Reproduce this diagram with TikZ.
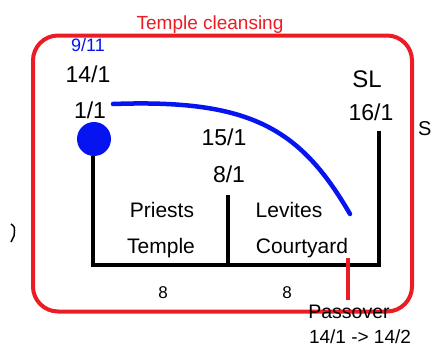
\documentclass[tikz,border=0pt]{standalone}
\usepackage{fontspec}
\setmainfont{Liberation Sans}
\definecolor{tred}{RGB}{236,28,36}
\definecolor{tblue}{RGB}{5,20,240}
\begin{document}
\begin{tikzpicture}[x=1pt,y=-1pt,
  lbl/.style={anchor=base,inner sep=0pt,font=\fontsize{21}{21}\selectfont},
  small/.style={anchor=base,inner sep=0pt,font=\fontsize{17}{17}\selectfont},
  wall/.style={line width=4pt,black},
  redline/.style={line width=4pt,tred},
  blueline/.style={line width=4.5pt,tblue,line cap=round}]
\useasboundingbox (0,0) rectangle (432,348);
% red frame
\node[draw=tred,line width=4pt,rounded corners=25pt,minimum width=379pt,minimum height=276pt,inner sep=0pt] (frame) at (222.5,173.5) {};
\node[anchor=base,inner sep=0pt,text=tred,font=\fontsize{19}{19}\selectfont] (title) at (210,29) {Temple cleansing};
% walls
\node[circle,fill=tblue,minimum size=34pt,inner sep=0pt] (dot) at (94,139) {};
\coordinate (bl) at (93,265);
\coordinate (br) at (379,265);
\coordinate (mb) at (228,265);
\coordinate (mt) at (228,195);
\coordinate (rt) at (379,131);
\draw[wall] (dot.south -| bl) -- (bl) -- (br) -- (rt);
\draw[wall] (mt) -- (mb);
% passover marker
\coordinate (pt) at (348,258);
\coordinate (pb) at (348,300);
\draw[redline] (pt) -- (pb);
% blue curve
\coordinate (cs) at (113,104);
\coordinate (ce) at (350,214);
\draw[blueline] (cs) .. controls (250,99) and (300,128) .. (ce);
% labels
\node[small,text=tblue,font=\fontsize{18}{18}\selectfont] (nine) at (88,52) {9/11};
\node[lbl,font=\fontsize{23}{23}\selectfont] (d141) at (88,82) {14/1};
\node[lbl,font=\fontsize{23}{23}\selectfont] (d11) at (90,118) {1/1};
\node[lbl,font=\fontsize{24}{24}\selectfont] (sl) at (367,87) {SL};
\node[lbl,font=\fontsize{23}{23}\selectfont] (d161) at (371,121) {16/1};
\node[lbl,font=\fontsize{23}{23}\selectfont] (d151) at (224,145) {15/1};
\node[lbl,font=\fontsize{23}{23}\selectfont] (d81) at (229,182) {8/1};
\node[lbl] (priests) at (162,217) {Priests};
\node[lbl] (levites) at (289,217) {Levites};
\node[lbl] (temple) at (161,253) {Temple};
\node[lbl] (court) at (302,253) {Courtyard};
\node[small] (e1) at (163,298) {8};
\node[small] (e2) at (287,298) {8};
\node[lbl,font=\fontsize{19.5}{19.5}\selectfont] (pass) at (349,318) {Passover};
\node[lbl,font=\fontsize{19}{19}\selectfont] (pdate) at (360,343) {14/1 -> 14/2};
\node[lbl,anchor=base west,font=\fontsize{20}{20}\selectfont] (s) at (418,135) {S};
\draw[line width=1.5pt] (11,224) .. controls (15,227) .. (14,236) -- (11,242);
\end{tikzpicture}
\end{document}
